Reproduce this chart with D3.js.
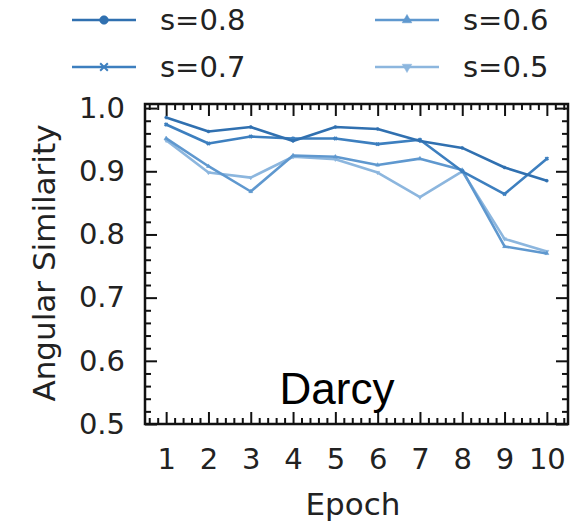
<!DOCTYPE html>
<html>
<head>
<meta charset="utf-8">
<script src="https://cdn.jsdelivr.net/npm/d3@7"></script>
<style>
  body { margin: 0; background: #fff; }
  text { font-family: "DejaVu Sans", sans-serif; fill: #222; }
</style>
</head>
<body>
<div id="container"></div>
<script>
// Data
const epochs = [1, 2, 3, 4, 5, 6, 7, 8, 9, 10];
const s08 = [0.985, 0.963, 0.970, 0.948, 0.970, 0.967, 0.948, 0.937, 0.906, 0.885];
const s07 = [0.974, 0.944, 0.955, 0.952, 0.952, 0.943, 0.950, 0.900, 0.864, 0.920];
const s06 = [0.952, 0.908, 0.868, 0.925, 0.923, 0.910, 0.920, 0.902, 0.781, 0.770];
const s05 = [0.949, 0.898, 0.890, 0.923, 0.919, 0.898, 0.859, 0.900, 0.793, 0.773];
const seriesNames = ["s=0.8", "s=0.7", "s=0.6", "s=0.5"];
const yTicks = [0.5, 0.6, 0.7, 0.8, 0.9, 1.0];

const series = [
  { name: seriesNames[0], values: s08, color: "#3070b0", marker: "circle" },
  { name: seriesNames[1], values: s07, color: "#3d7fbf", marker: "cross" },
  { name: seriesNames[2], values: s06, color: "#5f98cf", marker: "triangle" },
  { name: seriesNames[3], values: s05, color: "#8cb6de", marker: "triangleDown" },
];

const svg = d3
  .select("#container")
  .append("svg")
  .attr("width", 582)
  .attr("height", 523);

const margin = { top: 104, right: 14, bottom: 99, left: 145 };
const width = 582 - margin.left - margin.right;
const height = 523 - margin.top - margin.bottom;

const x = d3.scaleLinear().domain([0.5, 10.5]).range([0, width]);
const y = d3.scaleLinear().domain([0.5, 1.0065]).range([height, 0]);

const g = svg
  .append("g")
  .attr("transform", "translate(" + margin.left + "," + margin.top + ")");

// minor tick positions
const xMinor = d3.range(0.6, 10.5, 0.2).filter((v) => Math.abs(v - Math.round(v)) > 0.01);
const yMinor = d3.range(0.52, 1.0065, 0.02).filter((v) => Math.abs(v * 10 - Math.round(v * 10)) > 0.01);

function styleAxis(sel) {
  sel.select(".domain").remove();
  sel.selectAll(".tick line").attr("stroke", "#111").attr("stroke-width", 2);
}

// bottom axis with labels
g.append("g")
  .attr("transform", "translate(0," + height + ")")
  .call(d3.axisBottom(x).tickValues(epochs).tickSize(-12).tickPadding(24).tickFormat(d3.format("d")))
  .call(styleAxis)
  .selectAll("text")
  .attr("font-size", 29)
  .attr("fill", "#222");
g.append("g")
  .attr("transform", "translate(0," + height + ")")
  .call(d3.axisBottom(x).tickValues(xMinor).tickSize(-6).tickFormat(""))
  .call(styleAxis);

// top mirrored ticks
g.append("g")
  .call(d3.axisTop(x).tickValues(epochs).tickSize(-12).tickFormat(""))
  .call(styleAxis);
g.append("g")
  .call(d3.axisTop(x).tickValues(xMinor).tickSize(-6).tickFormat(""))
  .call(styleAxis);

// left axis with labels
g.append("g")
  .call(d3.axisLeft(y).tickValues(yTicks).tickSize(-12).tickPadding(20).tickFormat(d3.format(".1f")))
  .call(styleAxis)
  .selectAll("text")
  .attr("font-size", 29)
  .attr("fill", "#222");
g.append("g")
  .call(d3.axisLeft(y).tickValues(yMinor).tickSize(-6).tickFormat(""))
  .call(styleAxis);

// right mirrored ticks
g.append("g")
  .attr("transform", "translate(" + width + ",0)")
  .call(d3.axisRight(y).tickValues(yTicks).tickSize(-12).tickFormat(""))
  .call(styleAxis);
g.append("g")
  .attr("transform", "translate(" + width + ",0)")
  .call(d3.axisRight(y).tickValues(yMinor).tickSize(-6).tickFormat(""))
  .call(styleAxis);

// frame
g.append("rect")
  .attr("width", width)
  .attr("height", height)
  .attr("fill", "none")
  .attr("stroke", "#111")
  .attr("stroke-width", 2.5);

// marker symbols
const symbolTypes = {
  circle: d3.symbolCircle,
  cross: d3.symbolX,
  triangle: d3.symbolTriangle,
  triangleDown: d3.symbolTriangle,
};

function drawMarker(sel, s, size) {
  const p = sel
    .append("path")
    .attr("d", d3.symbol().type(symbolTypes[s.marker]).size(size)())
    .attr("fill", s.color)
    .attr("stroke", s.color)
    .attr("stroke-width", s.marker === "cross" ? 2 : 0.5);
  if (s.marker === "triangleDown") p.attr("transform", "rotate(180)");
  return p;
}

const line = d3
  .line()
  .x((d, i) => x(epochs[i]))
  .y((d) => y(d));

// draw lightest first so darker sit on top
series
  .slice()
  .reverse()
  .forEach((s) => {
    g.append("path")
      .datum(s.values)
      .attr("fill", "none")
      .attr("stroke", s.color)
      .attr("stroke-width", 2.6)
      .attr("stroke-linejoin", "round")
      .attr("d", line);

    s.values.forEach((v, i) => {
      const m = g
        .append("g")
        .attr("transform", "translate(" + x(epochs[i]) + "," + y(v) + ")");
      drawMarker(m, s, 7);
    });
  });

// dataset label
g.append("text")
  .attr("x", x(5.04))
  .attr("y", y(0.532))
  .attr("text-anchor", "middle")
  .style("font-family", "'Liberation Sans', Arial, sans-serif")
  .attr("font-size", 44)
  .style("fill", "#000")
  .text("Darcy");

// axis titles
svg
  .append("text")
  .attr("x", 353)
  .attr("y", 515)
  .attr("text-anchor", "middle")
  .attr("font-size", 31)
  .text("Epoch");

svg
  .append("text")
  .attr("transform", "translate(55,263) rotate(-90)")
  .attr("text-anchor", "middle")
  .attr("font-size", 31)
  .text("Angular Similarity");

// legend: two columns
const legendPos = [
  { lx: 72, ly: 20 },
  { lx: 72, ly: 67 },
  { lx: 375, ly: 20 },
  { lx: 375, ly: 67 },
];

series.forEach((s, i) => {
  const p = legendPos[i];
  const lg = svg.append("g").attr("transform", "translate(" + p.lx + "," + p.ly + ")");
  lg.append("line")
    .attr("x1", 0)
    .attr("x2", 64)
    .attr("stroke", s.color)
    .attr("stroke-width", 2.6);
  const m = lg.append("g").attr("transform", "translate(32,0)");
  drawMarker(m, s, s.marker === "circle" ? 60 : 40);
  lg.append("text")
    .attr("x", 88)
    .attr("y", 0)
    .attr("dy", "0.35em")
    .attr("font-size", 29)
    .text(s.name);
});
</script>
</body>
</html>
